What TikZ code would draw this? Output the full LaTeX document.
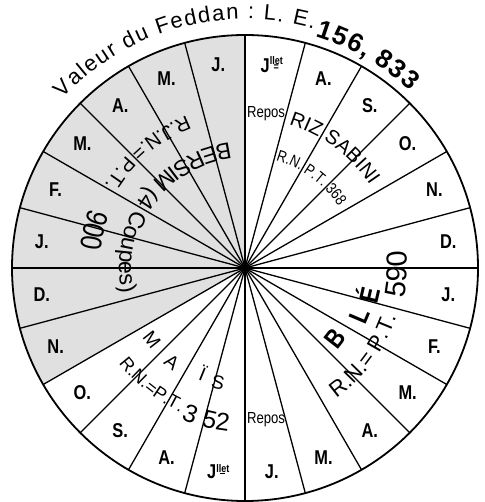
\documentclass[tikz,border=0pt]{standalone}
\usepackage{fontspec}
\setmainfont{Liberation Sans}
\newfontfamily\cf[FakeStretch=0.82]{Liberation Sans}
\usetikzlibrary{decorations.text}
\newcommand\arctxt[5]{% radius, start, end, font, text
  \path[decorate,decoration={text along path,text={|#4|#5}}] (#2:#1) arc[start angle=#2,end angle=#3,radius=#1];}
\newcommand\jtop{J\raisebox{2pt}{\fontsize{11}{11}\selectfont\shortstack{llet\\[-3pt]=}}}
\newcommand\jbot{J\raisebox{4pt}{\fontsize{11}{11}\selectfont\shortstack{llet\\[-2pt]\rule{5pt}{0.8pt}}}}
\begin{document}
\begin{tikzpicture}[x=1pt,y=1pt,
  spoke/.style={line width=1.3pt},
  rim/.style={line width=1.8pt},
  month/.style={font=\cf\bfseries\fontsize{20}{20}\selectfont, inner sep=0pt},
  repos/.style={font=\cf\fontsize{16}{16}\selectfont, inner sep=0pt},
  bigl/.style={font=\cf\bfseries\fontsize{27}{27}\selectfont, inner sep=0pt},
  mais/.style={font=\fontsize{19}{19}\selectfont, inner sep=0pt}]
\useasboundingbox (-245,-234) rectangle (239,268);
\fill[white] (-245,-234) rectangle (239,268);
\coordinate (O) at (0,0);
% shaded sector
\fill[black!12] (O) -- (90:233) arc[start angle=90,end angle=210,radius=233] -- cycle;
% spokes
\foreach \a in {0,15,...,345} \draw[spoke] (O) -- (\a:233);
\draw[rim] (O) circle (233);
\fill (O) circle (3.5);
% title
\path[decorate,decoration={text along path, text align=fit to path,
  text={|\fontsize{22}{22}\selectfont|Valeur du Feddan : L. E.}}]
  (137:249) arc[start angle=137,end angle=74,radius=249];
\path[decorate,decoration={text along path, text align=fit to path,
  text={|\bfseries\fontsize{26}{26}\selectfont|156, 833}}]
  (73:242) arc[start angle=73,end angle=47,radius=242];
% months
\foreach \a/\t [count=\i] in {82.5/\jtop, 67.5/A., 52.5/S., 37.5/O., 22.5/N., 7.5/D.,
  -7.5/J., -22.5/F., -37.5/M., -52.5/A., -67.5/M., -82.5/J.,
  -97.5/\jbot, -112.5/A., -127.5/S., -142.5/O., -157.5/N., -172.5/D.,
  172.5/J., 157.5/F., 142.5/M., 127.5/A., 112.5/M., 97.5/J.}
  \node[month] (m\i) at (\a:205) {\t};
% BERSIM
\arctxt{126}{97}{215}{\fontsize{23}{23}\selectfont}{BERSIM (4 Coupes)}
\arctxt{163}{111}{170}{\fontsize{20}{20}\selectfont}{R.J.N.= P.T.}
\arctxt{166}{159}{190}{\cf\fontsize{30}{30}\selectfont}{900}
% RIZ
\node[repos] (rep1) at (21,154) {Repos};
\arctxt{150}{73}{15}{\fontsize{20}{20}\selectfont}{RIZ SABINI}
\arctxt{112}{74}{15}{\cf\fontsize{16}{16}\selectfont}{R.N. P.T. 368}
% BLE
\node[bigl, rotate=52] (b1) at (90,-70) {B};
\node[bigl, rotate=67] (b2) at (115,-48) {L};
\node[bigl, rotate=77] (b3) at (122,-27) {É};
\arctxt{159}{-55}{0}{\fontsize{22}{22}\selectfont}{R.N.= P.T.}
\arctxt{162}{-11}{25}{\fontsize{29}{29}\selectfont}{590}
% MAIS
\node[mais, rotate=-52] (s1) at (-93,-72) {M};
\node[mais, rotate=-38] (s2) at (-73,-94) {A};
\node[mais, rotate=-22] (s3) at (-42,-105) {Ï};
\node[mais, rotate=-13] (s4) at (-27,-115) {S};
\arctxt{158}{217}{255}{\fontsize{18}{18}\selectfont}{R.N.=P.T.}
\arctxt{164}{247}{258}{\fontsize{25}{25}\selectfont}{3}
\arctxt{164}{254.5}{275}{\fontsize{25}{25}\selectfont}{52}
\node[repos] (rep2) at (21,-152) {Repos};
\end{tikzpicture}
\end{document}
